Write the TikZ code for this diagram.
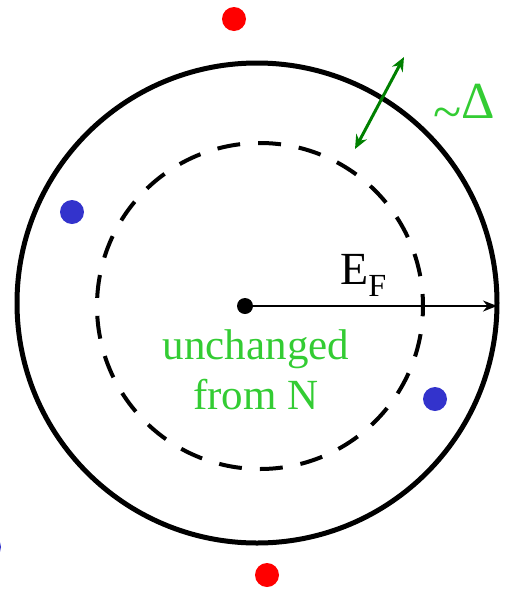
\documentclass[tikz,border=0pt]{standalone}
\usepackage{fontspec}
\setmainfont{Liberation Serif}
\usetikzlibrary{arrows.meta}
\definecolor{lgreen}{RGB}{51,204,51}
\definecolor{dgreen}{RGB}{0,128,0}
\definecolor{dblue}{RGB}{51,51,204}
\begin{document}
\begin{tikzpicture}[x=1pt,y=-1pt,
  dot/.style={circle,fill,inner sep=0pt,minimum size=#1},
  lbl/.style={inner sep=0pt,font=\fontsize{#1}{#1}\selectfont},
  lbl/.default=40]
\useasboundingbox (0,0) rectangle (508,590);
% circles
\node[circle,draw,line width=5pt,minimum size=480pt,inner sep=0pt] (outer) at (257,303) {};
\node[circle,draw,line width=4pt,dash pattern=on 23pt off 18pt,dash phase=11pt,minimum size=326pt,inner sep=0pt] (inner) at (260,306) {};
% dots
\node[dot=24pt,red] (r1) at (234,19) {};
\node[dot=24pt,red] (r2) at (267,575) {};
\node[dot=24pt,dblue] (b1) at (72,212) {};
\node[dot=24pt,dblue] (b2) at (435,399) {};
\node[dot=24pt,dblue] (b3) at (-11,547) {};
\node[dot=16pt,black] (c) at (245,306) {};
% radius arrow
\coordinate (fe) at (497,306);
\draw[line width=2pt,-{Stealth[length=14pt,width=11pt]}] (c.center) -- (fe);
\node[lbl=46,anchor=base west] (ef) at (340,284) {E\textsubscript{F}};
% gap arrow
\coordinate (g1) at (404,57);
\coordinate (g2) at (355,149);
\draw[dgreen,line width=3pt,{Stealth[length=14pt,width=12pt]}-{Stealth[length=14pt,width=12pt]}] (g2) -- (g1);
\node[lbl=52,text=lgreen,anchor=base west] (gap) at (433,118) {\raisebox{-0.22em}{\textasciitilde}Δ};
% center text
\node[text=lgreen,align=center,inner sep=0pt,font=\fontsize{43}{50}\selectfont] (unch) at (256,370) {unchanged\\from N};
\end{tikzpicture}
\end{document}
